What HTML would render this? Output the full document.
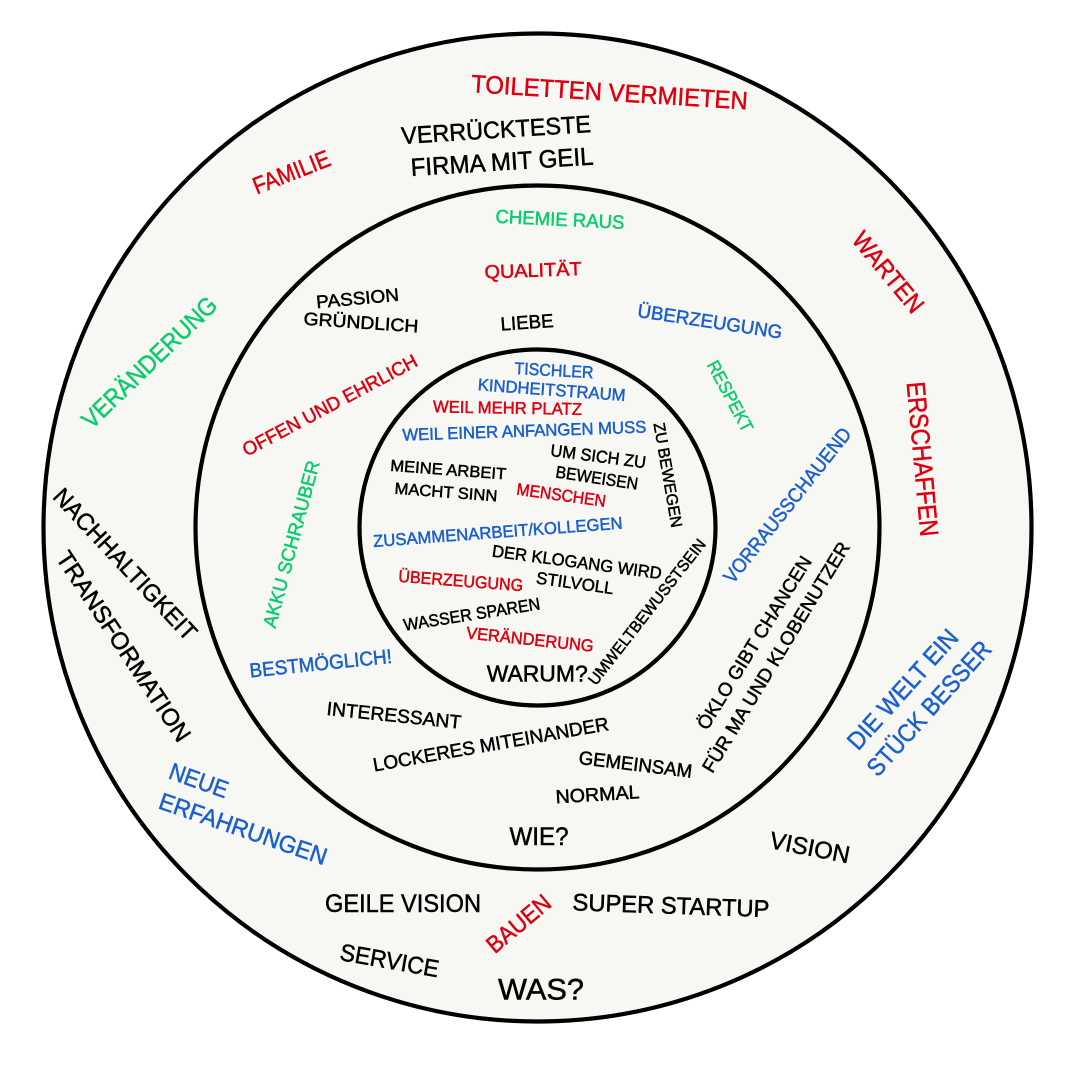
<!DOCTYPE html>
<html>
<head>
<meta charset="utf-8">
<style>
html,body{margin:0;padding:0;background:#fff;}
svg{display:block;}
text{font-family:"Liberation Sans","DejaVu Sans",sans-serif;text-anchor:middle;stroke-width:0.5px;}
.r{fill:#dd0011;stroke:#dd0011;}
.g{fill:#0acc6e;stroke:#0acc6e;}
.b{fill:#1b5fd1;stroke:#1b5fd1;}
.k{fill:#000;stroke:#000;}
</style>
</head>
<body>
<svg width="1079" height="1080" viewBox="0 0 1079 1080" xmlns="http://www.w3.org/2000/svg">
<rect width="1079" height="1080" fill="#fff"/>
<circle cx="537.5" cy="527.5" r="494" fill="#f7f8f3" stroke="#000" stroke-width="4.2"/>
<circle cx="537.5" cy="527.5" r="342" fill="#f7f8f3" stroke="#000" stroke-width="4.2"/>
<circle cx="537.5" cy="527.5" r="178" fill="#f7f8f3" stroke="#000" stroke-width="4.2"/>

<!-- Outer ring -->
<text class="r" transform="translate(609.5 91.8) rotate(3.6)" y="9" font-size="25" textLength="277" lengthAdjust="spacingAndGlyphs">TOILETTEN VERMIETEN</text>
<text class="k" transform="translate(496 129.3) rotate(-3.6)" y="8.7" font-size="24" textLength="190" lengthAdjust="spacingAndGlyphs">VERRÜCKTESTE</text>
<text class="k" transform="translate(502 161.3) rotate(-3.6)" y="9" font-size="25" textLength="183" lengthAdjust="spacingAndGlyphs">FIRMA MIT GEIL</text>
<text class="r" transform="translate(291.2 171.7) rotate(-21.5)" y="8.7" font-size="24" textLength="81" lengthAdjust="spacingAndGlyphs">FAMILIE</text>
<text class="g" transform="translate(149 362) rotate(-44)" y="9" font-size="25" textLength="177" lengthAdjust="spacingAndGlyphs">VERÄNDERUNG</text>
<text class="k" transform="translate(125.6 564) rotate(47)" y="8.7" font-size="24" textLength="198" lengthAdjust="spacingAndGlyphs">NACHHALTIGKEIT</text>
<text class="k" transform="translate(124 646) rotate(56.5)" y="8.7" font-size="24" textLength="223" lengthAdjust="spacingAndGlyphs">TRANSFORMATION</text>
<text class="b" transform="translate(199 780) rotate(19.5)" y="8.7" font-size="24" textLength="61" lengthAdjust="spacingAndGlyphs">NEUE</text>
<text class="b" transform="translate(243.3 828.4) rotate(19)" y="8.7" font-size="24" textLength="176" lengthAdjust="spacingAndGlyphs">ERFAHRUNGEN</text>
<text class="k" transform="translate(403 903)" y="9" font-size="25" textLength="156" lengthAdjust="spacingAndGlyphs">GEILE VISION</text>
<text class="k" transform="translate(389.6 960) rotate(10)" y="8.7" font-size="24" textLength="100" lengthAdjust="spacingAndGlyphs">SERVICE</text>
<text class="r" transform="translate(518.3 923.3) rotate(-40)" y="8.7" font-size="24" textLength="76" lengthAdjust="spacingAndGlyphs">BAUEN</text>
<text class="k" transform="translate(541 988.3)" y="11" font-size="30" textLength="86" lengthAdjust="spacingAndGlyphs">WAS?</text>
<text class="k" transform="translate(671 905) rotate(2)" y="8.7" font-size="24" textLength="197" lengthAdjust="spacingAndGlyphs">SUPER STARTUP</text>
<text class="k" transform="translate(810 847) rotate(11)" y="8.7" font-size="24" textLength="81" lengthAdjust="spacingAndGlyphs">VISION</text>
<text class="b" transform="translate(902.3 689) rotate(-48)" y="9" font-size="25" textLength="152" lengthAdjust="spacingAndGlyphs">DIE WELT EIN</text>
<text class="b" transform="translate(928.6 708) rotate(-48)" y="9" font-size="25" textLength="172" lengthAdjust="spacingAndGlyphs">STÜCK BESSER</text>
<text class="r" transform="translate(923 459) rotate(84.8)" y="9.4" font-size="26" textLength="155" lengthAdjust="spacingAndGlyphs">ERSCHAFFEN</text>
<text class="r" transform="translate(888.5 272) rotate(50.5)" y="9" font-size="25" textLength="97" lengthAdjust="spacingAndGlyphs">WARTEN</text>

<!-- Middle ring -->
<text class="g" transform="translate(560 219) rotate(2.7)" y="6.8" font-size="19" textLength="129" lengthAdjust="spacingAndGlyphs">CHEMIE RAUS</text>
<text class="r" transform="translate(533 270) rotate(-2)" y="6.8" font-size="19" textLength="97" lengthAdjust="spacingAndGlyphs">QUALITÄT</text>
<text class="k" transform="translate(527 322) rotate(-4)" y="6.8" font-size="19" textLength="53" lengthAdjust="spacingAndGlyphs">LIEBE</text>
<text class="k" transform="translate(357.5 298) rotate(-5.3)" y="6.5" font-size="18" textLength="83" lengthAdjust="spacingAndGlyphs">PASSION</text>
<text class="k" transform="translate(361 322) rotate(3.9)" y="6.5" font-size="18" textLength="115" lengthAdjust="spacingAndGlyphs">GRÜNDLICH</text>
<text class="b" transform="translate(710 321) rotate(8.6)" y="6.8" font-size="19" textLength="146" lengthAdjust="spacingAndGlyphs">ÜBERZEUGUNG</text>
<text class="g" transform="translate(730.5 396) rotate(62)" y="6.5" font-size="18" textLength="78" lengthAdjust="spacingAndGlyphs">RESPEKT</text>
<text class="b" transform="translate(787 505) rotate(-51.5)" y="7.2" font-size="20" textLength="192" lengthAdjust="spacingAndGlyphs">VORRAUSSCHAUEND</text>
<text class="r" transform="translate(329.7 405) rotate(-28)" y="6.8" font-size="19" textLength="195" lengthAdjust="spacingAndGlyphs">OFFEN UND EHRLICH</text>
<text class="g" transform="translate(291 544) rotate(-75)" y="6.8" font-size="19" textLength="172" lengthAdjust="spacingAndGlyphs">AKKU SCHRAUBER</text>
<text class="b" transform="translate(320.6 663) rotate(-5.9)" y="7.2" font-size="20" textLength="143" lengthAdjust="spacingAndGlyphs">BESTMÖGLICH!</text>
<text class="k" transform="translate(394 715) rotate(5.9)" y="6.8" font-size="19" textLength="135" lengthAdjust="spacingAndGlyphs">INTERESSANT</text>
<text class="k" transform="translate(490.7 744) rotate(-10)" y="6.8" font-size="19" textLength="239" lengthAdjust="spacingAndGlyphs">LOCKERES MITEINANDER</text>
<text class="k" transform="translate(635.5 764) rotate(7)" y="6.8" font-size="19" textLength="114" lengthAdjust="spacingAndGlyphs">GEMEINSAM</text>
<text class="k" transform="translate(597.5 794) rotate(-3.5)" y="6.8" font-size="19" textLength="84" lengthAdjust="spacingAndGlyphs">NORMAL</text>
<text class="k" transform="translate(539 836)" y="9" font-size="25" textLength="59" lengthAdjust="spacingAndGlyphs">WIE?</text>
<text class="k" transform="translate(754 642.5) rotate(-58.2)" y="6.8" font-size="19" textLength="200" lengthAdjust="spacingAndGlyphs">ÖKLO GIBT CHANCEN</text>
<text class="k" transform="translate(775.7 657) rotate(-58.7)" y="6.8" font-size="19" textLength="266" lengthAdjust="spacingAndGlyphs">FÜR MA UND KLOBENUTZER</text>

<!-- Inner circle -->
<text class="b" transform="translate(554 370) rotate(3)" y="6.1" font-size="17" textLength="79" lengthAdjust="spacingAndGlyphs">TISCHLER</text>
<text class="b" transform="translate(551.7 389.5) rotate(4.2)" y="6.1" font-size="17" textLength="148" lengthAdjust="spacingAndGlyphs">KINDHEITSTRAUM</text>
<text class="r" transform="translate(507.5 407.5) rotate(1)" y="6.1" font-size="17" textLength="149" lengthAdjust="spacingAndGlyphs">WEIL MEHR PLATZ</text>
<text class="b" transform="translate(524.3 430.5) rotate(-1.9)" y="6.1" font-size="17" textLength="244" lengthAdjust="spacingAndGlyphs">WEIL EINER ANFANGEN MUSS</text>
<text class="k" transform="translate(668.3 475) rotate(80.2)" y="5.8" font-size="16" textLength="106" lengthAdjust="spacingAndGlyphs">ZU BEWEGEN</text>
<text class="k" transform="translate(598.3 456) rotate(7.4)" y="6.1" font-size="17" textLength="96" lengthAdjust="spacingAndGlyphs">UM SICH ZU</text>
<text class="k" transform="translate(597 477.5) rotate(8.6)" y="6.1" font-size="17" textLength="83" lengthAdjust="spacingAndGlyphs">BEWEISEN</text>
<text class="k" transform="translate(448.3 469.3) rotate(4.3)" y="5.8" font-size="16" textLength="116" lengthAdjust="spacingAndGlyphs">MEINE ARBEIT</text>
<text class="k" transform="translate(446 491.7) rotate(4.3)" y="5.8" font-size="16" textLength="103" lengthAdjust="spacingAndGlyphs">MACHT SINN</text>
<text class="r" transform="translate(561.3 494.7) rotate(7.9)" y="6.1" font-size="17" textLength="90" lengthAdjust="spacingAndGlyphs">MENSCHEN</text>
<text class="b" transform="translate(497.8 531.7) rotate(-4.2)" y="6.1" font-size="17" textLength="250" lengthAdjust="spacingAndGlyphs">ZUSAMMENARBEIT/KOLLEGEN</text>
<text class="k" transform="translate(577 561.7) rotate(7.6)" y="6.1" font-size="17" textLength="171" lengthAdjust="spacingAndGlyphs">DER KLOGANG WIRD</text>
<text class="k" transform="translate(575 582.7) rotate(8)" y="6.1" font-size="17" textLength="78" lengthAdjust="spacingAndGlyphs">STILVOLL</text>
<text class="r" transform="translate(460.8 580.4) rotate(4.3)" y="6.1" font-size="17" textLength="125" lengthAdjust="spacingAndGlyphs">ÜBERZEUGUNG</text>
<text class="k" transform="translate(471.7 614) rotate(-9)" y="6.1" font-size="17" textLength="138" lengthAdjust="spacingAndGlyphs">WASSER SPAREN</text>
<text class="r" transform="translate(530 639) rotate(6)" y="6.1" font-size="17" textLength="128" lengthAdjust="spacingAndGlyphs">VERÄNDERUNG</text>
<text class="k" transform="translate(537.2 673.3)" y="8.3" font-size="23" textLength="101" lengthAdjust="spacingAndGlyphs">WARUM?</text>
<text class="k" transform="translate(646.7 611.7) rotate(-52)" y="5.8" font-size="16" textLength="180" lengthAdjust="spacingAndGlyphs">UMWELTBEWUSSTSEIN</text>
</svg>
</body>
</html>
